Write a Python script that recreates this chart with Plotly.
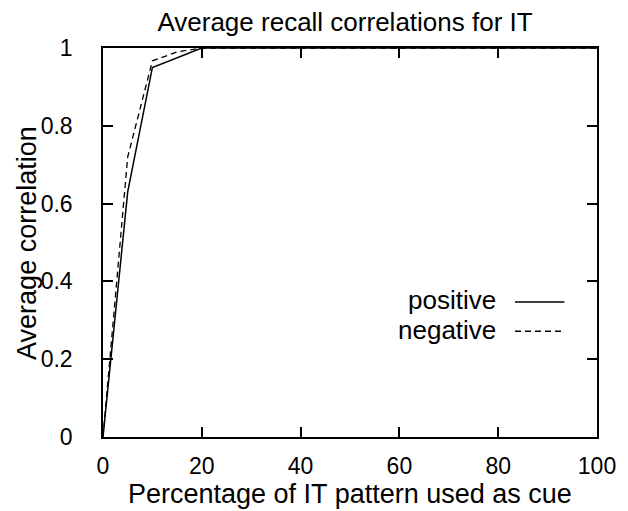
import plotly.graph_objects as go

cue_pct = [0, 5, 10, 20, 30, 40, 50, 60, 70, 80, 90, 100]
positive = [0.0, 0.63, 0.95, 1.0, 1.0, 1.0, 1.0, 1.0, 1.0, 1.0, 1.0, 1.0]
cue_pct_neg = [0, 5, 10, 15, 20, 30, 40, 50, 60, 70, 80, 90, 100]
negative = [0.0, 0.72, 0.967, 0.99, 1.0, 1.0, 1.0, 1.0, 1.0, 1.0, 1.0, 1.0, 1.0]
x_ticks = [0, 20, 40, 60, 80, 100]
y_ticks = [0, 0.2, 0.4, 0.6, 0.8, 1]
y_tick_labels = ["0", "0.2", "0.4", "0.6", "0.8", "1"]

FONT = "Liberation Sans, Arial, Helvetica, sans-serif"

fig = go.Figure()
fig.add_trace(go.Scatter(x=cue_pct, y=positive, mode="lines", name="positive",
                         line=dict(color="black", width=1.5)))
fig.add_trace(go.Scatter(x=cue_pct_neg, y=negative, mode="lines", name="negative",
                         line=dict(color="black", width=1.3, dash="6px,4px")))

axis_common = dict(showline=True, linecolor="black", linewidth=1.5, mirror="ticks",
                   ticks="inside", ticklen=10, tickwidth=1.5, tickcolor="black",
                   showgrid=False, zeroline=False,
                   tickfont=dict(family=FONT, size=23, color="black"))

fig.update_xaxes(range=[0, 100], tickvals=x_ticks, ticklabelstandoff=8, **axis_common)
fig.update_yaxes(range=[0, 1], tickvals=y_ticks, ticktext=y_tick_labels,
                 ticklabelstandoff=24, **axis_common)

# axis titles placed precisely
fig.add_annotation(xref="paper", yref="paper", x=0.5, y=-0.147,
                   text="Percentage of IT pattern used as cue", showarrow=False,
                   xanchor="center", yanchor="middle",
                   font=dict(family=FONT, size=27, color="black"))
fig.add_annotation(xref="paper", yref="paper", x=-0.155, y=0.5,
                   text="Average correlation", showarrow=False, textangle=-90,
                   xanchor="center", yanchor="middle",
                   font=dict(family=FONT, size=27, color="black"))

# legend (text left of line sample, as in the original)
legend_items = [("positive", "solid", 0.347), ("negative", "6px,4px", 0.272)]
for label, dash, yp in legend_items:
    fig.add_annotation(xref="paper", yref="paper", x=0.80, y=yp + 0.004, text=label,
                       showarrow=False, xanchor="right", yanchor="middle",
                       font=dict(family=FONT, size=26, color="black"))
    fig.add_shape(type="line", xref="paper", yref="paper", x0=0.834, x1=0.934,
                  y0=yp, y1=yp,
                  line=dict(color="black", width=1.5, dash=dash))

# the page body has a small margin, so the figure is sized to fit the window
fig.update_layout(
    width=620, height=503,
    margin=dict(l=95, r=20, t=40, b=74),
    paper_bgcolor="white", plot_bgcolor="white",
    showlegend=False,
    title=dict(text="Average recall correlations for IT", xref="paper", x=0.49,
               xanchor="center", y=0.973, yanchor="middle",
               font=dict(family=FONT, size=26, color="black")),
)

fig.write_html("out.html")
